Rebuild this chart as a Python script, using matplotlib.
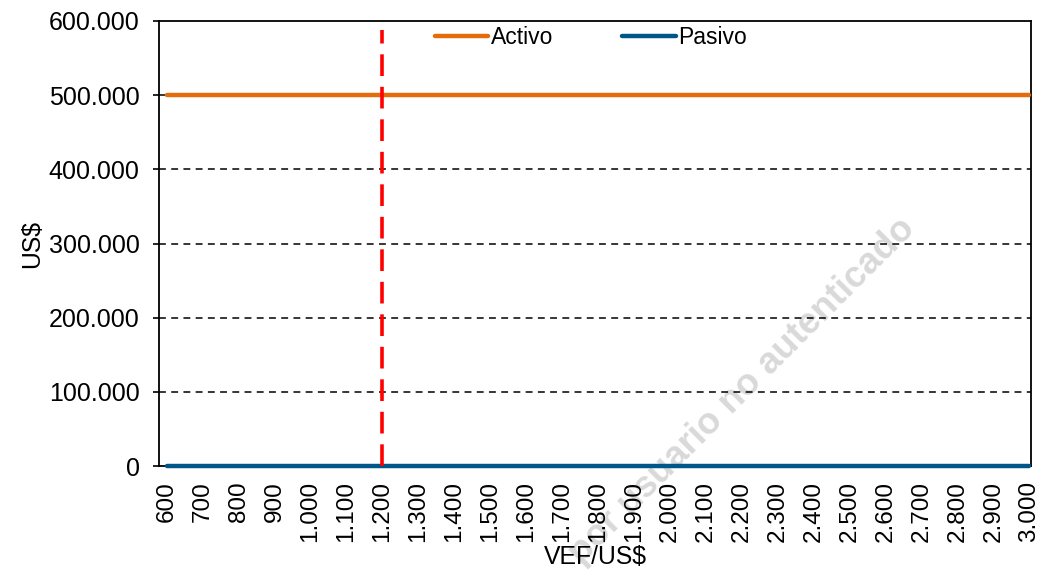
import matplotlib
matplotlib.use("Agg")
import matplotlib.pyplot as plt

plt.rcParams['font.family'] = ['Liberation Sans', 'DejaVu Sans']

categories = [600, 700, 800, 900, 1000, 1100, 1200, 1300, 1400, 1500, 1600, 1700, 1800,
              1900, 2000, 2100, 2200, 2300, 2400, 2500, 2600, 2700, 2800, 2900, 3000]
activo = [500000] * len(categories)
pasivo = [0] * len(categories)
tipo_cambio_actual = 1200
linea_top = 588000
yticks = [0, 100000, 200000, 300000, 400000, 500000, 600000]

def fmt(v):
    return f"{v:,}".replace(",", ".")

fig = plt.figure(figsize=(10.41, 5.73), dpi=100)
ax = fig.add_axes([159/1041, 1-466/573, (1031-159)/1041, (466-21)/573])
ax.patch.set_alpha(0)

x = list(range(len(categories)))
for y in yticks[1:-1]:
    ax.axhline(y, color='black', lw=1.1, ls=(0, (4.5, 3.5)), zorder=1)

ax.plot(x, activo, color='#E46C0A', lw=3.2, label='Activo', zorder=3,
        solid_capstyle='round', clip_on=False)
ax.plot(x, pasivo, color='#005689', lw=3.2, label='Pasivo', zorder=3,
        solid_capstyle='round', clip_on=False)

xi = categories.index(tipo_cambio_actual)
ax.vlines(xi, 0, linea_top, colors='#FF0000', lw=2.6, linestyles=(0, (6, 3)), zorder=4)

ax.set_xlim(-0.22, len(categories) - 1 + 0.05)
ax.set_ylim(0, 600000)
ax.set_xticks(x)
ax.set_xticklabels([fmt(c) for c in categories], rotation=90, fontsize=17.5)
ax.set_yticks(yticks)
ax.set_yticklabels([fmt(v) for v in yticks], fontsize=18)
ax.tick_params(axis='x', length=0, pad=11)
ax.tick_params(axis='y', length=4, width=1.2, pad=10, direction='out')
for s in ax.spines.values():
    s.set_linewidth(1.3)
    s.set_color('black')

ax.set_xlabel('VEF/US$', fontsize=17.8, labelpad=2)
ax.set_ylabel('US$', fontsize=17.8, labelpad=3)

leg = ax.legend(loc='upper center', ncol=2, frameon=False, fontsize=16.5,
                handlelength=2.35, handletextpad=0.1, columnspacing=3.0,
                bbox_to_anchor=(0.495, 1.035))

fig.text(910/1041, 1-224/573, 'por usuario no autenticado', rotation=45,
         rotation_mode='anchor', fontsize=26.5, fontweight='bold', color='#d9d9d9',
         ha='right', va='center', zorder=-1)

fig.savefig('out.png', dpi=100)
